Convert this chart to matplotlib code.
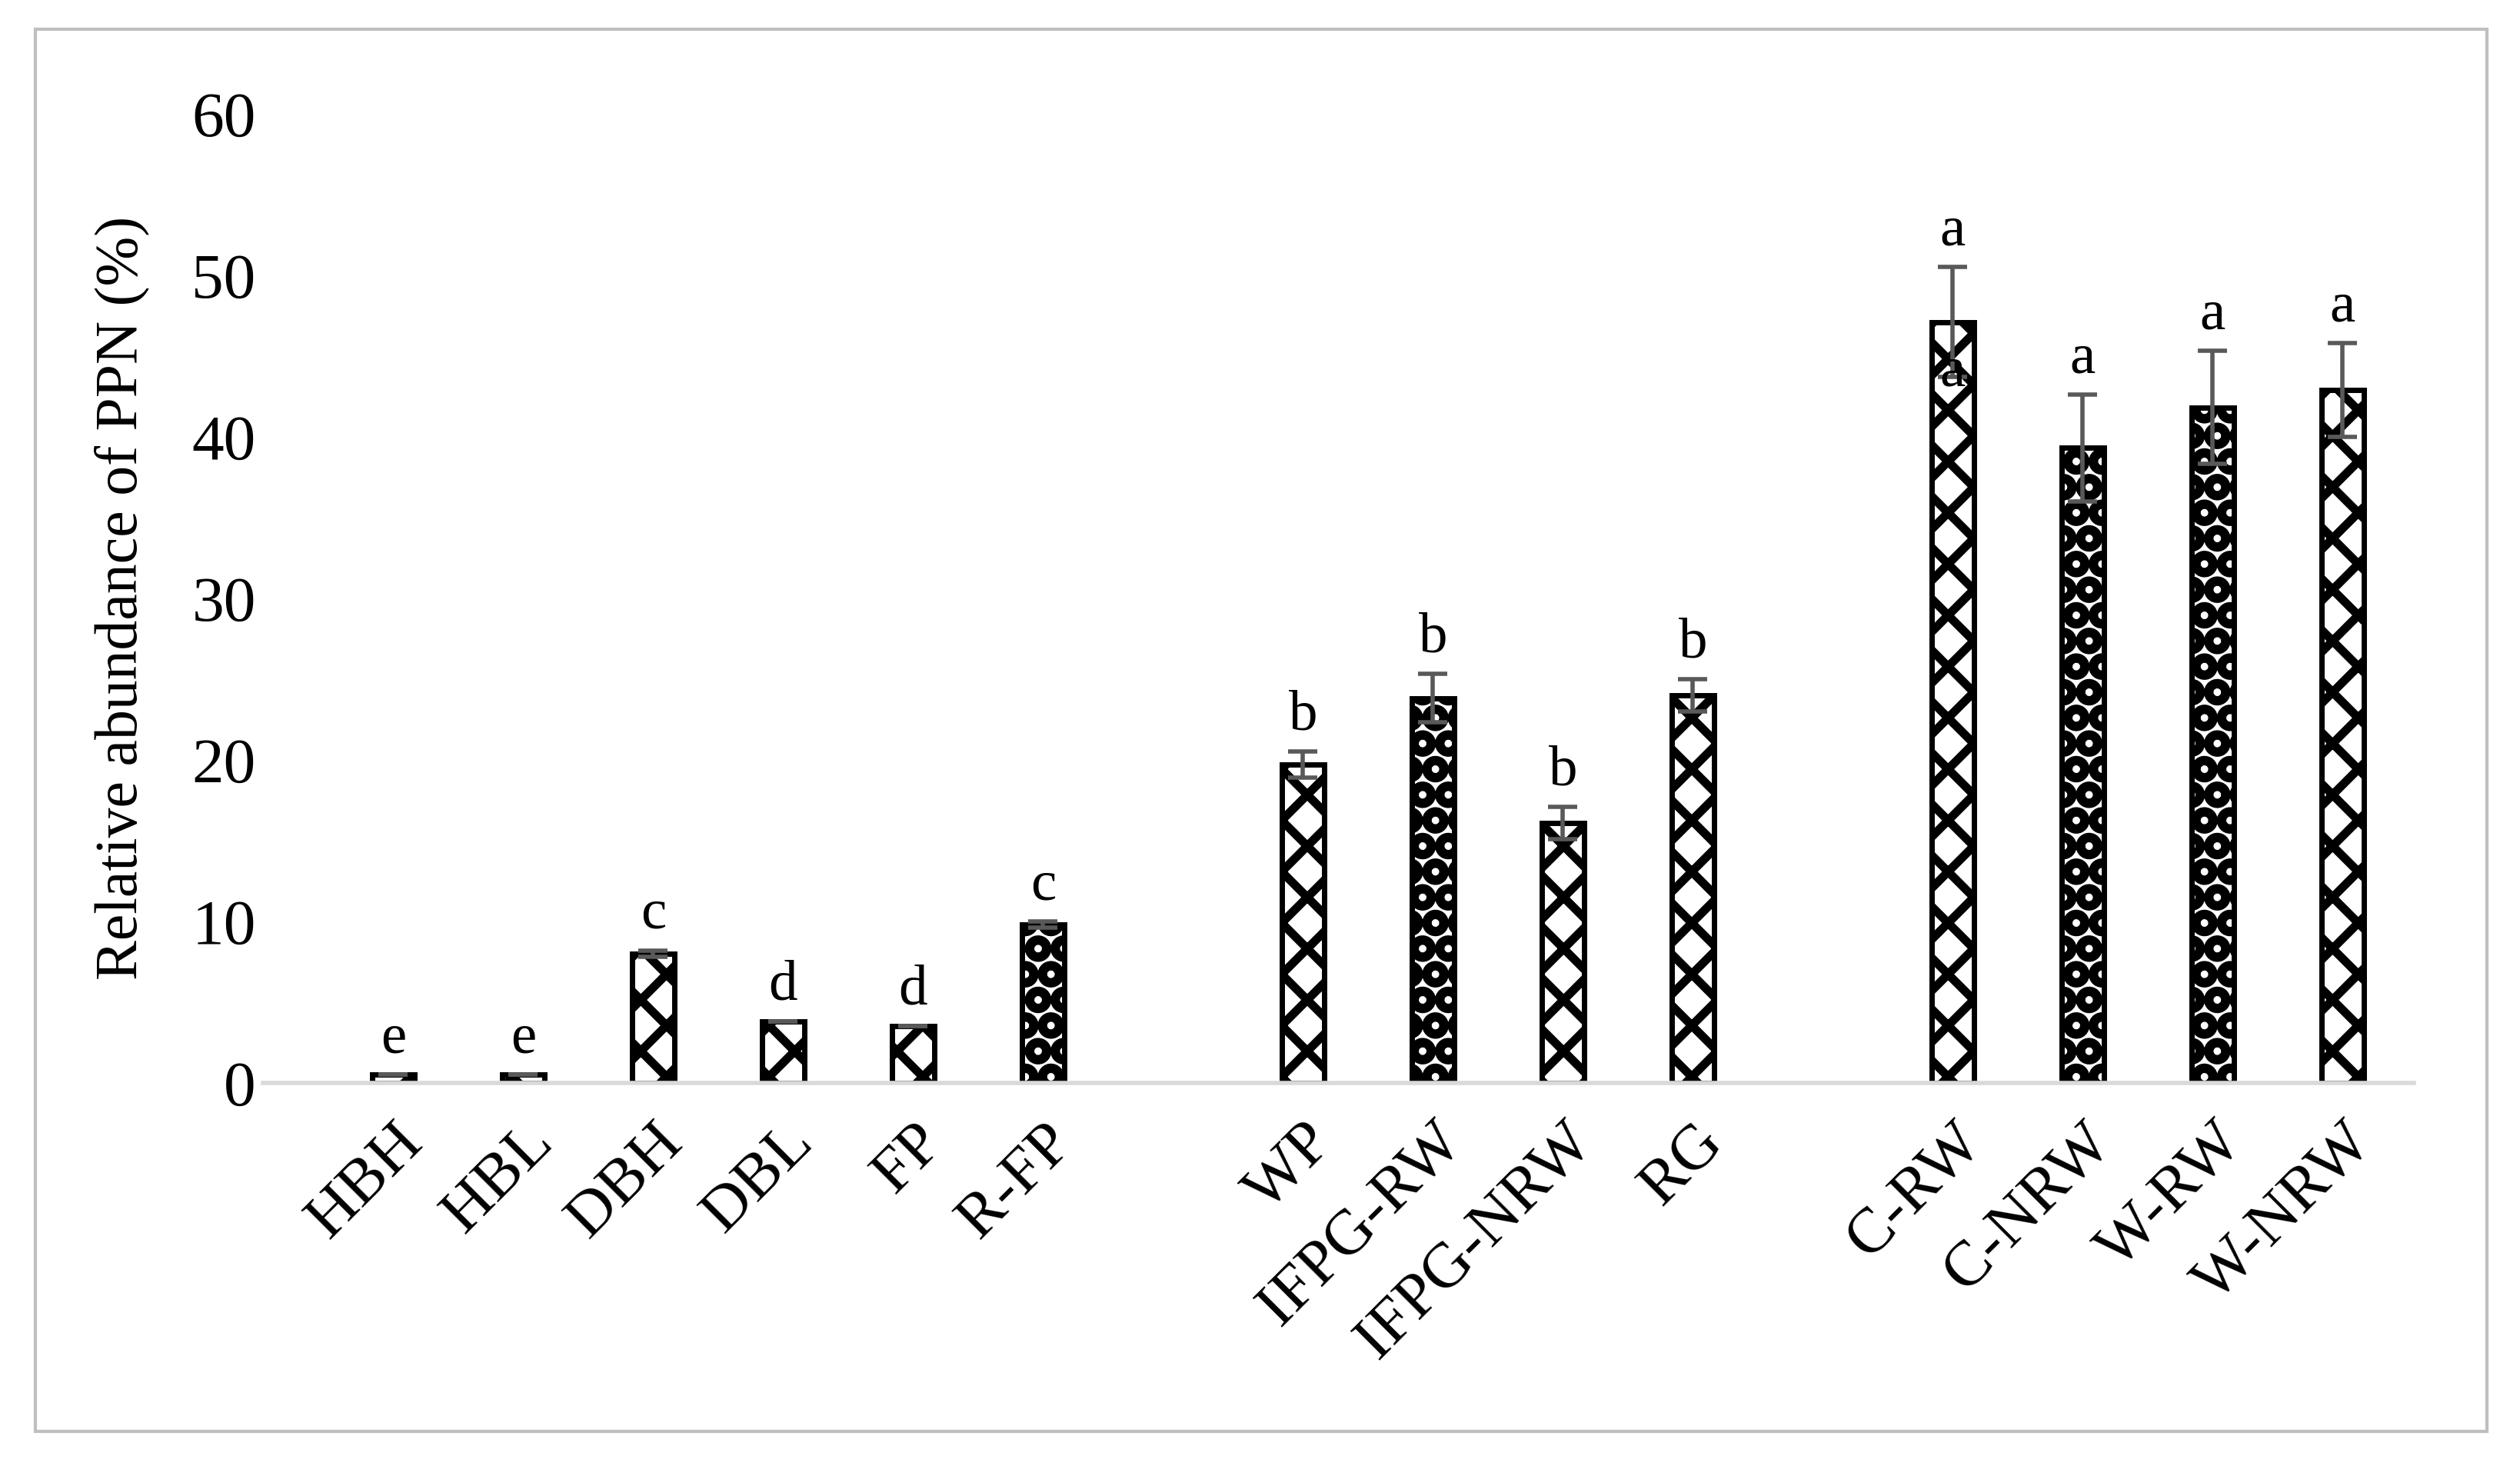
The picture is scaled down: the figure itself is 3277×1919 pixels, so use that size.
import matplotlib.pyplot as plt
from matplotlib.patches import Rectangle

categories = ["HBH", "HBL", "DBH", "DBL", "FP", "R-FP",
              "WP", "IFPG-RW", "IFPG-NRW", "RG",
              "C-RW", "C-NRW", "W-RW", "W-NRW"]
positions = [0, 1, 2, 3, 4, 5, 7, 8, 9, 10, 12, 13, 14, 15]
values = [0.5, 0.5, 8.0, 3.8, 3.5, 9.8, 19.7, 23.8, 16.1, 24.0, 47.1, 39.3, 41.8, 42.9]
errors = [0, 0, 0.2, 0, 0, 0.2, 0.8, 1.5, 1.0, 1.0, 3.4, 3.3, 3.5, 2.9]
letters = ["e", "e", "c", "d", "d", "c", "b", "b", "b", "b", "a", "a", "a", "a"]
hatches = ["x", "x", "x", "x", "x", "O", "x", "O", "x", "x", "x", "O", "O", "x"]

plt.rcParams['font.family'] = ['Liberation Serif', 'DejaVu Serif']
plt.rcParams['hatch.linewidth'] = 4

fig = plt.figure(figsize=(16.385, 9.595), dpi=200)
fig.patches.append(Rectangle((0.014, 0.03), 0.973, 0.95, transform=fig.transFigure,
                             fill=False, edgecolor="#bfbfbf", linewidth=1.5))
ax = fig.add_axes([0.1045, 0.2664, 0.8535, 0.6566])

for x, v, h in zip(positions, values, hatches):
    ax.bar(x, v, width=0.33, color="white", edgecolor="black", hatch=h, linewidth=2.5, zorder=2)
ax.errorbar(positions, values, yerr=errors, fmt="none", ecolor="#595959",
            elinewidth=2, capsize=7, capthick=2, zorder=3)
for x, v, e, t in zip(positions, values, errors, letters):
    ax.text(x, v + e + 0.6, t, ha="center", va="bottom", fontsize=27)
ax.text(12, 44.0, "a", ha="center", va="center", fontsize=27, zorder=4)

ax.set_xlim(-1, 15.55)
ax.set_ylim(0, 60)
ax.set_yticks(range(0, 61, 10))
ax.set_xticks(positions)
ax.set_xticklabels(categories, rotation=45, ha="right", rotation_mode="anchor")
ax.tick_params(axis="both", length=0, labelsize=30)
ax.tick_params(axis="x", pad=14)
for s in ["top", "right", "left"]:
    ax.spines[s].set_visible(False)
ax.spines["bottom"].set_color("#d9d9d9")
ax.spines["bottom"].set_linewidth(2)
ax.set_ylabel("Relative abundance of PPN (%)", fontsize=28, labelpad=20)

fig.savefig("out.png", dpi=200)
